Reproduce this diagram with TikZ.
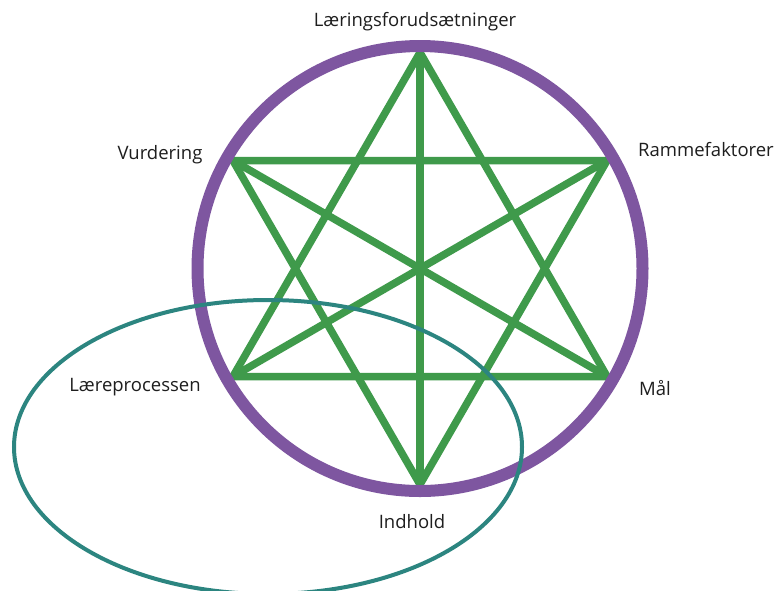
\documentclass[tikz,border=0pt]{standalone}
\usepackage{fontspec}
\setmainfont{Open Sans}
\definecolor{ringpurple}{HTML}{7E56A0}
\definecolor{stargreen}{HTML}{3F9A4B}
\definecolor{ellteal}{HTML}{2C8580}
\definecolor{txt}{HTML}{1E1E1E}
\begin{document}
\begin{tikzpicture}[x=1pt,y=-1pt,
  starline/.style={draw=stargreen,line width=7.5pt,line cap=round,line join=miter},
  lbl/.style={text=txt,font=\fontsize{18.5}{21}\selectfont,inner sep=0pt}]
\useasboundingbox (0,0) rectangle (778,590);
\fill[white] (0,0) rectangle (778,590);
\coordinate (C) at (420,268.5);
\coordinate (T) at (420,52.5);
\coordinate (B) at (420,484.5);
\coordinate (UL) at (232.9,160.5);
\coordinate (UR) at (607.1,160.5);
\coordinate (LL) at (232.9,376.5);
\coordinate (LR) at (607.1,376.5);
\draw[starline] (T) -- (LL) -- (LR) -- cycle;
\draw[starline] (B) -- (UL) -- (UR) -- cycle;
\draw[starline] (T) -- (B);
\draw[starline] (UL) -- (LR);
\draw[starline] (UR) -- (LL);
\draw[draw=ringpurple,line width=12pt] (C) circle[radius=222.5];
\draw[draw=ellteal,line width=4pt] (268,447) ellipse[x radius=254,y radius=147];
\node[lbl] (l1) at (415,22) {Læringsforudsætninger};
\node[lbl] (l2) at (160,155) {Vurdering};
\node[lbl] (l3) at (706,150) {Rammefaktorer};
\node[lbl] (l4) at (135,387) {Læreprocessen};
\node[lbl] (l5) at (655,388) {Mål};
\node[lbl] (l6) at (412,522) {Indhold};
\end{tikzpicture}
\end{document}
